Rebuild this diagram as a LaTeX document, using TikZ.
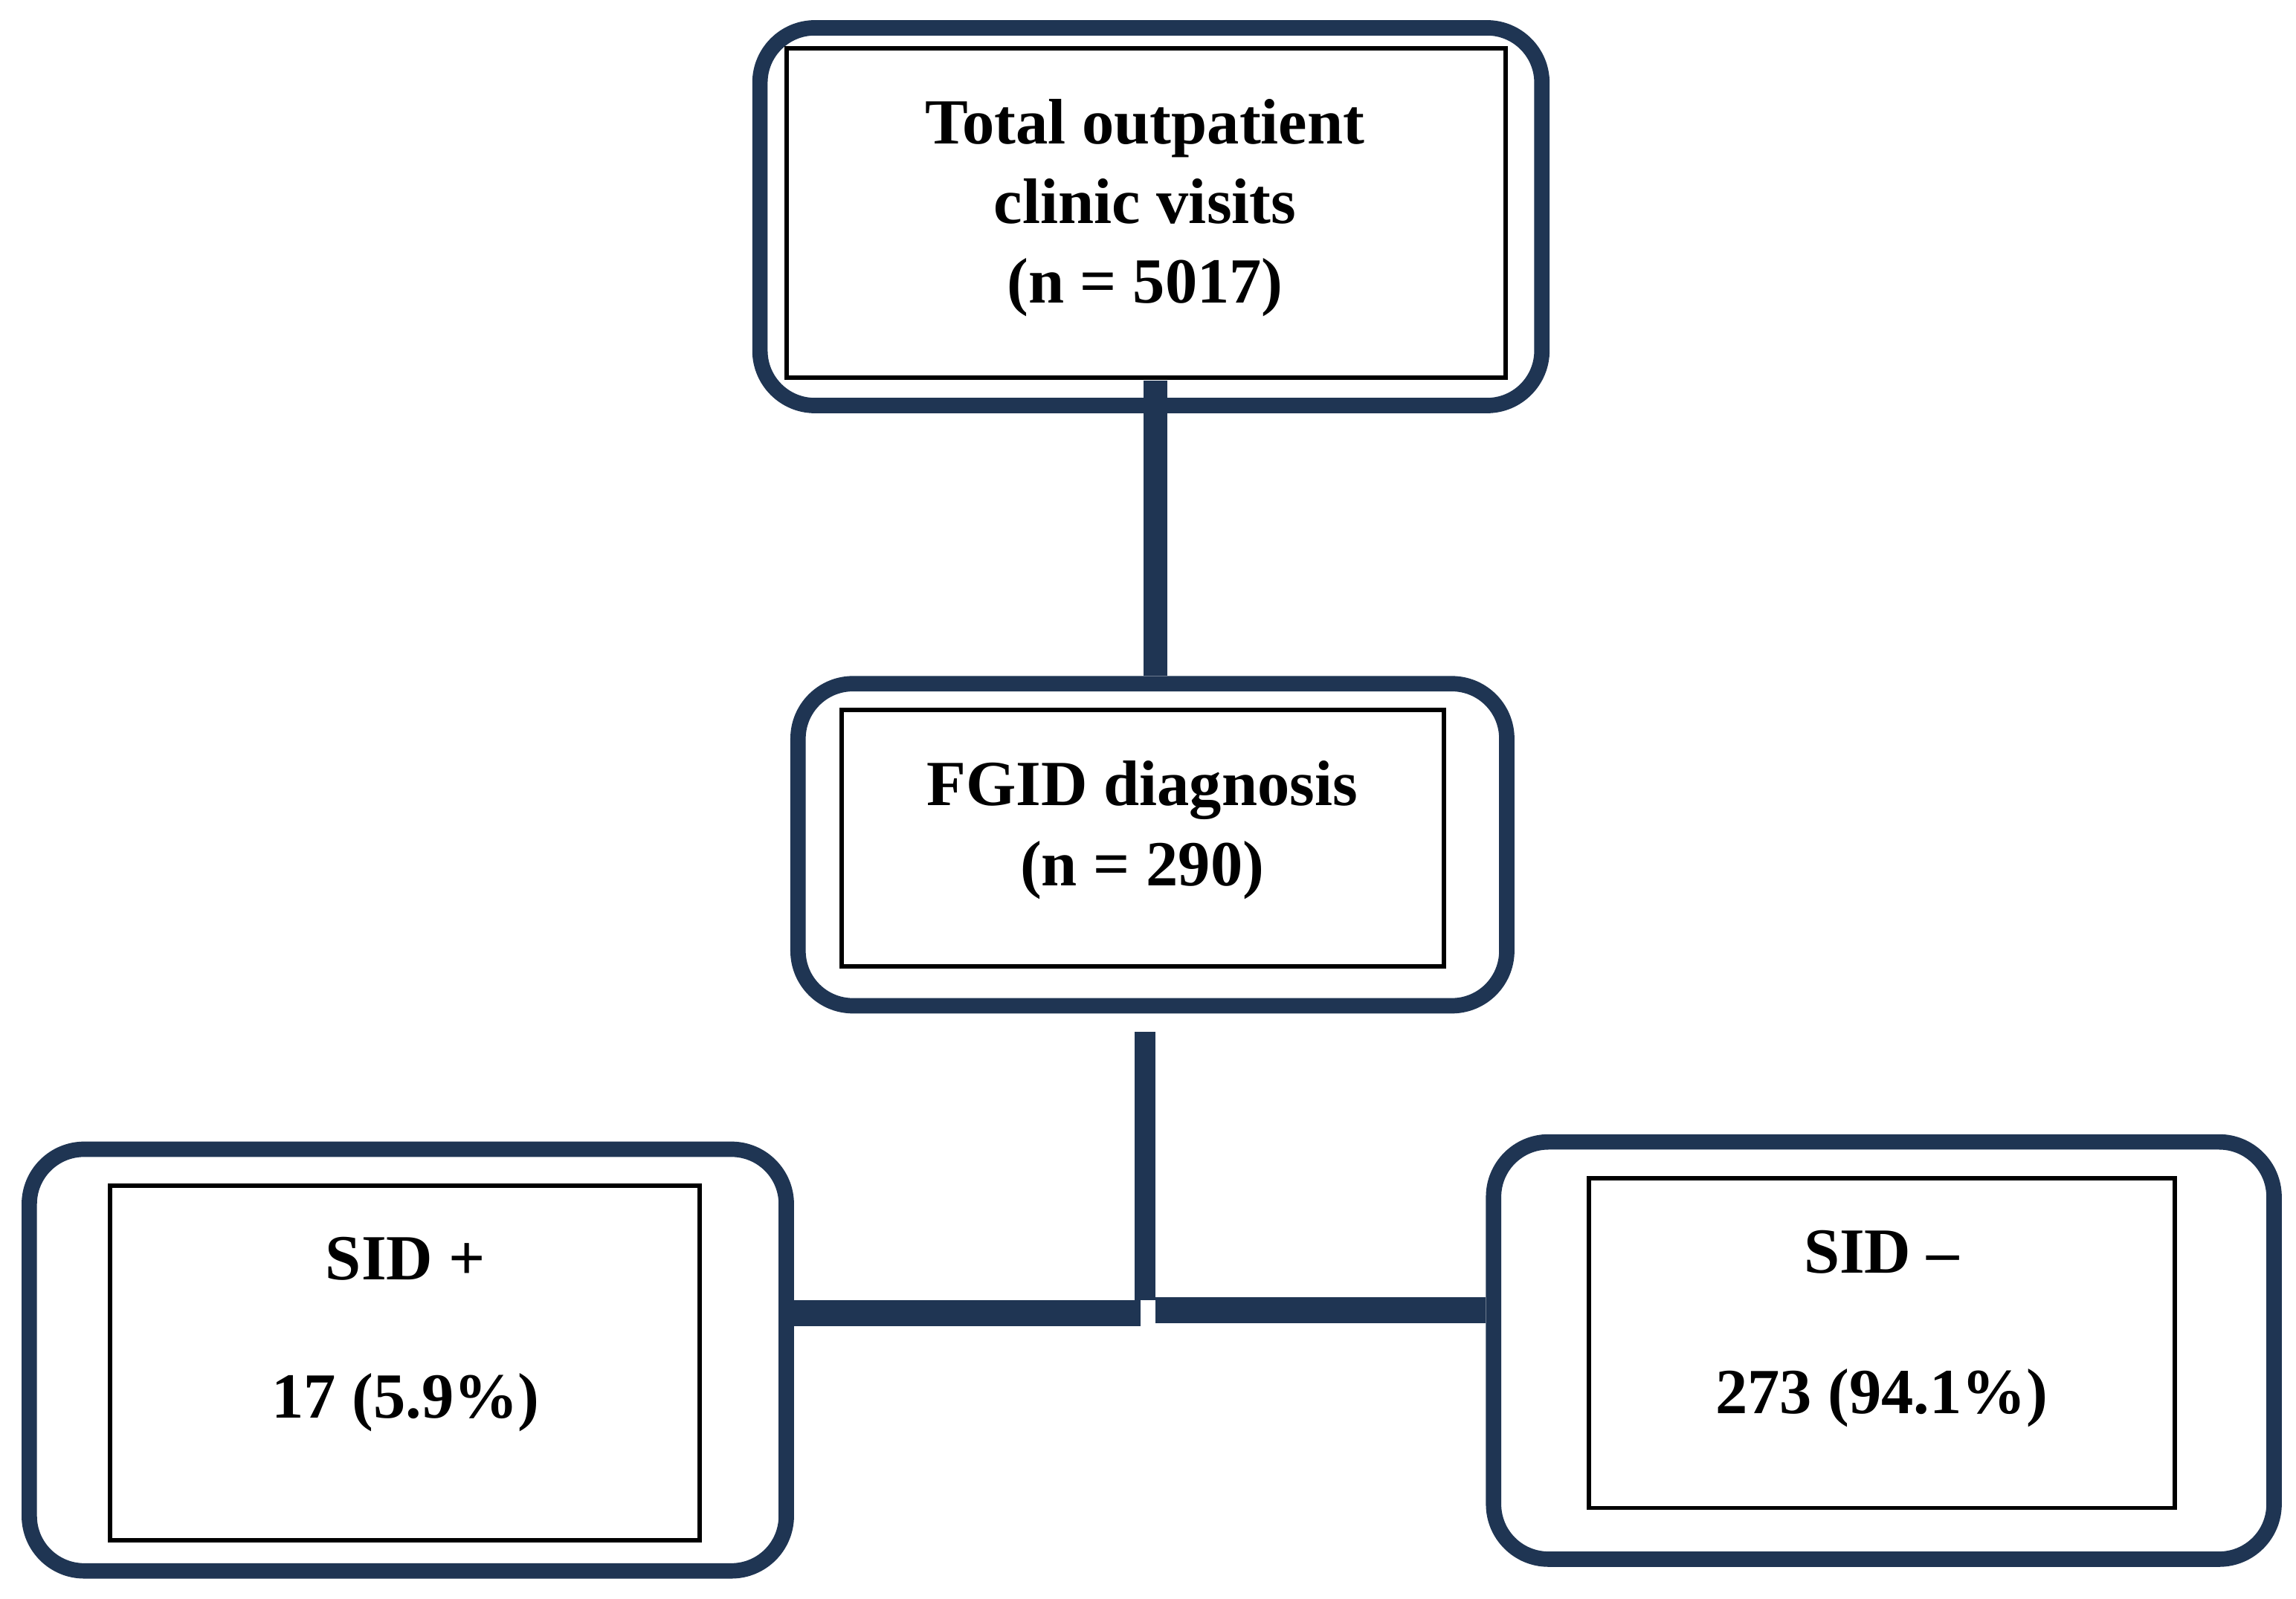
\documentclass[tikz,border=0pt]{standalone}
\usepackage{fontspec}
\setmainfont{Liberation Serif}
\definecolor{navy}{HTML}{1F3553}
\begin{document}
\begin{tikzpicture}[x=0.2mm,y=-0.2mm,
  outerbox/.style={draw=navy,line width=2.1mm,rounded corners=7.5mm,fill=white,inner sep=0pt},
  innerbox/.style={draw=black,line width=0.6mm,inner sep=0pt},
  lbl/.style={font=\bfseries\fontsize{25}{31}\selectfont,align=center,inner sep=0pt},
  conn/.style={draw=navy,line cap=butt}]
\useasboundingbox (0,0) rectangle (1568,1092);
% outer boxes
\node[outerbox,minimum width=106.8mm,minimum height=51.6mm] (topo) at (786,148) {};
\node[outerbox,minimum width=96.8mm,minimum height=44mm] (mido) at (787,577) {};
\node[outerbox,minimum width=103.4mm,minimum height=57.6mm] (lefto) at (278.5,929) {};
\node[outerbox,minimum width=106.6mm,minimum height=57mm] (righto) at (1286.5,922.5) {};
% inner boxes
\node[innerbox,minimum width=98.2mm,minimum height=45mm] (topi) at (782.5,145.5) {};
\node[innerbox,minimum width=82.2mm,minimum height=35mm] (midi) at (780.5,572.5) {};
\node[innerbox,minimum width=80.6mm,minimum height=48.4mm] (lefti) at (276.5,931) {};
\node[innerbox,minimum width=80mm,minimum height=45mm] (righti) at (1285,917.5) {};
% texts
\node[lbl] (t1) at (782,142) {Total outpatient\\clinic visits\\(n = 5017)};
\node[lbl] (t2) at (780,567) {FGID diagnosis\\(n = 290)};
\node[lbl] (t3a) at (277,860) {SID +};
\node[lbl] (t3b) at (277,958) {17 (5.9\%)};
\node[lbl] (t4a) at (1285,855) {SID –};
\node[lbl] (t4b) at (1285,955) {273 (94.1\%)};
% connectors
\coordinate (c1) at (789,260);
\coordinate (c2) at (782,705);
\coordinate (c3) at (782,888);
\coordinate (c4) at (779,897);
\coordinate (c5) at (789,895);
\draw[conn,line width=3.2mm] (c1) -- (c1 |- mido.north);
\draw[conn,line width=2.8mm] (c2) -- (c3);
\draw[conn,line width=3.6mm] (lefto.east |- c4) -- (c4);
\draw[conn,line width=3.6mm] (c5) -- (righto.west |- c5);
\end{tikzpicture}
\end{document}
